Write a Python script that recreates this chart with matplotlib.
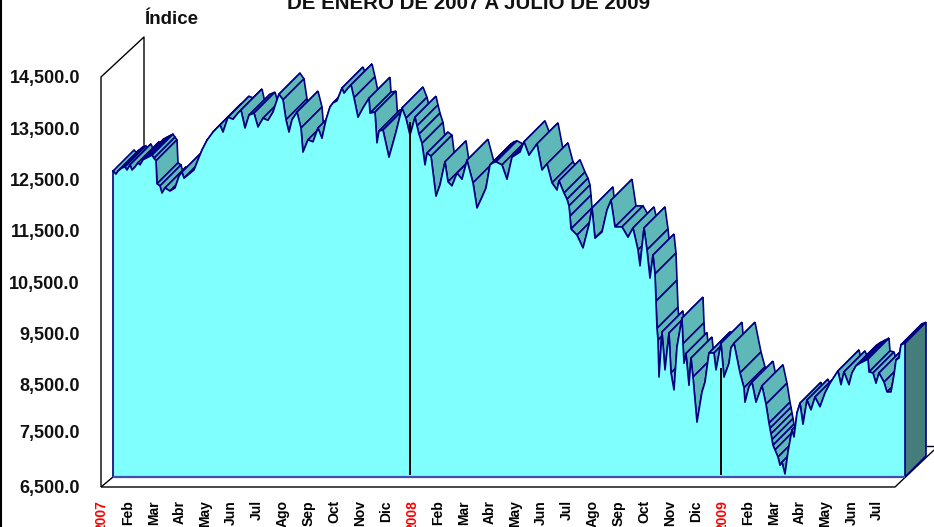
import matplotlib
matplotlib.use("Agg")
import matplotlib.pyplot as plt
import matplotlib.transforms as mtrans
from matplotlib.patches import Polygon

plt.rcParams['font.family'] = ['Liberation Sans', 'DejaVu Sans']

# chart values
title = "DE ENERO DE 2007 A JULIO DE 2009"
y_label = "Índice"
y_ticks = [14500, 13500, 12500, 11500, 10500, 9500, 8500, 7500, 6500]
y_tick_labels = ["14,500.0", "13,500.0", "12,500.0", "11,500.0", "10,500.0",
                 "9,500.0", "8,500.0", "7,500.0", "6,500.0"]
month_labels = ["2007", "Feb", "Mar", "Abr", "May", "Jun", "Jul", "Ago", "Sep", "Oct", "Nov", "Dic",
                "2008", "Feb", "Mar", "Abr", "May", "Jun", "Jul", "Ago", "Sep", "Oct", "Nov", "Dic",
                "2009", "Feb", "Mar", "Abr", "May", "Jun", "Jul"]

# position along the time axis (25.84 units = 1 month) and index level
pos_2007 = [0, 3, 5, 9, 12, 14, 17, 19, 22, 25,
            27, 30, 33, 35, 37, 39, 41, 43, 44, 47,
            49, 52, 57, 62, 66, 69, 71, 76, 81, 85,
            89, 94, 100, 107, 110, 115, 120, 125, 128, 132,
            136, 141, 145, 150, 155, 160, 163, 166, 170, 173,
            176, 179, 184, 188, 190, 195, 200, 205, 209, 213,
            217, 220, 224, 229, 231, 236, 238, 241, 245, 250,
            256, 257, 262, 264, 266, 270, 276, 283, 289, 293,
            297]
level_2007 = [12470, 12410, 12470, 12530, 12550, 12490, 12590, 12490, 12550, 12630,
              12590, 12690, 12720, 12740, 12760, 12780, 12720, 12670, 12220, 12180,
              12040, 12140, 12080, 12140, 12370, 12450, 12330, 12410, 12490, 12690,
              12880, 13070, 13230, 13370, 13230, 13520, 13480, 13600, 13660, 13310,
              13560, 13600, 13330, 13500, 13460, 13620, 13800, 13970, 13860, 13470,
              13230, 13470, 13620, 13310, 12840, 13080, 13040, 13310, 13110, 13470,
              13720, 13800, 13840, 14090, 13990, 14110, 14150, 13900, 13520, 13700,
              13890, 13600, 13620, 13020, 13250, 13270, 12740, 13230, 13700, 13500,
              13170]
pos_2008 = [302, 304, 306, 309, 312, 314, 318, 323, 327, 332,
            335, 339, 344, 349, 354, 360, 364, 369, 373, 377,
            380, 383, 389, 394, 399, 407, 411, 416, 424, 429,
            434, 439, 444, 446, 451, 454, 456, 457, 458, 464,
            470, 476, 479, 482, 489, 494, 498, 502, 509, 515,
            520, 525, 527, 531, 534, 537, 540, 542, 543, 544,
            545, 546, 549, 552, 556, 558, 561, 564, 569, 570,
            571, 573, 576, 578, 580, 584, 589, 592, 596, 601,
            603]
level_2008 = [13520, 13350, 13190, 13010, 12590, 12820, 12760, 11980, 12200, 12650,
              12260, 12180, 12430, 12310, 12680, 12240, 11750, 11960, 12140, 12590,
              12630, 12650, 12590, 12310, 12740, 12840, 13040, 12780, 13000, 12490,
              12610, 12240, 12100, 12280, 12040, 11920, 11790, 11590, 11340, 11220,
              10970, 11420, 11750, 11160, 11280, 11710, 11900, 11380, 11380, 11180,
              11360, 10930, 10620, 11360, 10930, 10380, 10830, 10460, 9930, 9400,
              9170, 8450, 9330, 8590, 9310, 8530, 8200, 9040, 9600, 9100,
              8720, 8910, 8290, 8820, 8450, 7570, 8160, 8350, 8920, 8920,
              8590]
pos_2009 = [608, 611, 616, 618, 621, 627, 631, 632, 636, 639,
            643, 649, 653, 656, 657, 658, 659, 660, 662, 665,
            667, 669, 672, 675, 679, 681, 684, 687, 690, 694,
            698, 702, 707, 712, 717, 721, 725, 728, 731, 736,
            739, 743, 747, 751, 755, 756, 760, 763, 766, 771,
            774, 778, 781, 783, 786, 788, 792]
level_2009 = [9110, 8450, 8720, 9020, 9110, 8530, 8240, 7960, 8260, 8350,
              7960, 8280, 7920, 7550, 7450, 7340, 7230, 7120, 7030, 6890,
              6730, 6790, 6560, 6990, 7420, 7280, 7750, 7940, 7530, 8000,
              7810, 8060, 7870, 8140, 8330, 8450, 8570, 8300, 8550, 8300,
              8530, 8670, 8720, 8760, 8800, 8550, 8530, 8330, 8530, 8350,
              8160, 8160, 8490, 8780, 8820, 9080, 9110]
# the two year lines run up to these levels
year_line_pos = [309, 620]
year_line_tops = [13620, 8820]

session_pos = pos_2007 + pos_2008 + pos_2009
index_values = level_2007 + level_2008 + level_2009

# frame of the 3d box, in pixels of the 934x527 canvas
WALL_LEFT, WALL_RIGHT = 101, 895
WALL_TOP, WALL_BOTTOM = 77, 487
PER_MONTH = 25.84
NAVY = "#000080"
LEVEL_PER_PX = 1 / 0.05125

fig = plt.figure(figsize=(9.34, 5.27), dpi=100)
ax = fig.add_axes([WALL_LEFT / 934, 1 - WALL_BOTTOM / 527,
                   (WALL_RIGHT - WALL_LEFT) / 934, (WALL_BOTTOM - WALL_TOP) / 527])
ax.set_xlim(0, WALL_RIGHT - WALL_LEFT)
ax.set_ylim(6500, 14500)
ax.axis("off")


# box lines are given in pixels of the wall plane
def box_line(xs, ys, color="black", lw=1.0, zorder=2):
    data_x = [x - WALL_LEFT for x in xs]
    data_y = [6500 + (WALL_BOTTOM - y) * LEVEL_PER_PX for y in ys]
    ax.plot(data_x, data_y, color=color, lw=lw, clip_on=False, solid_capstyle="butt", zorder=zorder)


box_line([101, 101, 144, 144], [487, 77, 37, 150])
box_line([101, 895, 934], [487, 487, 450])
box_line([101, 113], [487, 477])
box_line([926, 934], [446, 446])
box_line([113, 905], [477, 477], color="#4050b0", lw=1.6, zorder=8)

# dpi is 100 so these shifts are plain pixels
front = ax.transData + mtrans.Affine2D().translate(12, 10)
to_back = mtrans.Affine2D().translate(21, 21)
screen = mtrans.IdentityTransform()

# top surface, left to right so that nearer facets cover older ones
pts = list(zip(session_pos, index_values))
for i in range(len(pts) - 1):
    p0 = front.transform(pts[i])
    p1 = front.transform(pts[i + 1])
    facet = [p0, p1, to_back.transform(p1), to_back.transform(p0)]
    ax.add_patch(Polygon(facet, closed=True, facecolor="#5fb8b8", edgecolor=NAVY, lw=1.2,
                         transform=screen, clip_on=False, zorder=3 + i * 1e-4))

# right end cap
p_top = front.transform(pts[-1])
p_floor = front.transform((pts[-1][0], 6500))
ax.add_patch(Polygon([p_floor, p_top, to_back.transform(p_top), to_back.transform(p_floor)], closed=True,
                     facecolor="#457c7c", edgecolor=NAVY, lw=1.2,
                     transform=screen, clip_on=False, zorder=4))

# front face of the area
ax.fill_between(session_pos, index_values, 6500, facecolor="#80ffff", edgecolor="none", transform=front,
                clip_on=False, zorder=5)
ax.plot(session_pos, index_values, color=NAVY, lw=1.2, transform=front, clip_on=False, zorder=6)
ax.plot([0, 0], [6500, index_values[0]], color=NAVY, lw=1.2, transform=front, clip_on=False, zorder=6)
ax.plot([session_pos[-1]] * 2, [6500, index_values[-1]], color=NAVY, lw=1.2, transform=front,
        clip_on=False, zorder=6)

ax.vlines(year_line_pos, 6734, year_line_tops, color="black", lw=1.4, zorder=7)

for value, label in zip(y_ticks, y_tick_labels):
    # the 7,500.0 label sits a little high in the original
    nudge_px = 2 if value != 7500 else -2
    ax.text(-21, value - nudge_px * LEVEL_PER_PX, label, ha="right", va="center", fontsize=13,
            fontweight="bold", color="#111111", clip_on=False)

for m, label in enumerate(month_labels):
    color = "red" if label.startswith("20") else "black"
    ax.text(m * PER_MONTH + 1, 6500 - 13 * LEVEL_PER_PX, label, rotation=90, ha="center", va="top",
            fontsize=10, fontweight="bold", color=color, clip_on=False)

fig.text(171 / 934, 1 - 20 / 527, y_label, ha="center", va="center", fontsize=13.5, fontweight="bold",
         color="#111111")
fig.text(469 / 934, 1 - 9 / 527, title, ha="center", va="baseline", fontsize=14.8, fontweight="bold",
         color="#111111")

# outer border of the chart area, only its left edge is in the crop
fig.add_artist(plt.Line2D([1 / 934, 1 / 934], [0, 1], color="black", lw=1.5))

fig.savefig("out.png", dpi=100)
